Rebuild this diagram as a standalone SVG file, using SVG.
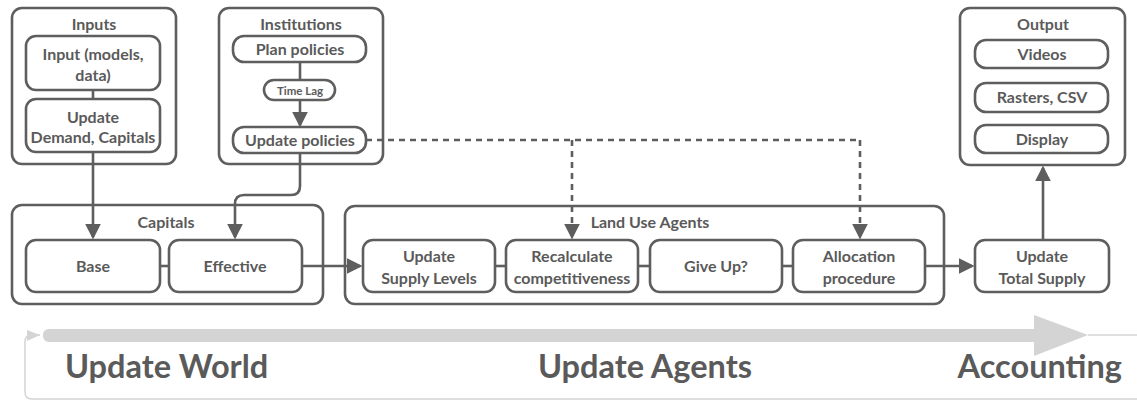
<svg xmlns="http://www.w3.org/2000/svg" width="1137" height="401" viewBox="0 0 1137 401">
<style>
.box{fill:#fff;stroke:#5e5e5e;stroke-width:2.6}
.grp{fill:#fff;stroke:#5e5e5e;stroke-width:2.6}
.t{font-family:Lato,"Liberation Sans",sans-serif;font-weight:bold;font-size:16px;fill:#5a5a5a;text-anchor:middle}
.ts{font-size:11.5px}
.big{font-family:Lato,"Liberation Sans",sans-serif;font-weight:bold;font-size:32.5px;fill:#5a5a5a}
.ln{fill:none;stroke:#5e5e5e;stroke-width:2.6}
.dash{fill:none;stroke:#5e5e5e;stroke-width:2.6;stroke-dasharray:6,5}
</style>
<defs>
<marker id="ah" markerWidth="6" markerHeight="6" refX="5" refY="3" orient="auto" markerUnits="strokeWidth">
<path d="M0,0 L6,3 L0,6 z" fill="#5e5e5e"/>
</marker>
</defs>

<g id="timeline">
<path d="M40 335 H32 Q25 335 25 342 V392 Q25 399 32 399 H1137" fill="none" stroke="#d4d4d4" stroke-width="1.5"/>
<path d="M27 330 L40 335 L27 341 z" fill="#d4d4d4"/>
<path d="M1088 335 H1137" fill="none" stroke="#d4d4d4" stroke-width="1.5"/>
<path d="M49 329 H1034 V315 L1088 335 L1034 356 V342 H49 Q43 342 43 335.5 Q43 329 49 329 z" fill="#d4d4d4"/>
<text class="big" x="65" y="378">Update World</text>
<text class="big" x="645" y="378" text-anchor="middle">Update Agents</text>
<text class="big" x="1122" y="378" text-anchor="end">Accounting</text>
</g>

<g id="inputs">
<rect class="grp" x="12" y="8" width="164" height="156" rx="10"/>
<text class="t" x="94" y="30">Inputs</text>
<rect class="box" x="26" y="36" width="134" height="54" rx="10"/>
<text class="t" x="93" y="60">Input (models,</text>
<text class="t" x="93" y="81">data)</text>
<rect class="box" x="26" y="99" width="134" height="53" rx="10"/>
<text class="t" x="93" y="123">Update</text>
<text class="t" x="93" y="143">Demand, Capitals</text>
</g>

<g id="institutions">
<rect class="grp" x="219" y="8" width="164" height="156" rx="10"/>
<text class="t" x="301" y="30">Institutions</text>
<rect class="box" x="233" y="36" width="133" height="26" rx="11"/>
<text class="t" x="300" y="55">Plan policies</text>
<rect class="box" x="264" y="80" width="71" height="20" rx="10"/>
<text class="t ts" x="300" y="94.5">Time Lag</text>
<rect class="box" x="233" y="127" width="133" height="26" rx="11"/>
<text class="t" x="300" y="146">Update policies</text>
</g>

<g id="output">
<rect class="grp" x="960" y="8" width="165" height="157" rx="10"/>
<text class="t" x="1043" y="30">Output</text>
<rect class="box" x="975" y="40" width="133" height="28" rx="11"/>
<text class="t" x="1042" y="60">Videos</text>
<rect class="box" x="975" y="83" width="133" height="29" rx="11"/>
<text class="t" x="1042" y="103">Rasters, CSV</text>
<rect class="box" x="975" y="125" width="133" height="28" rx="11"/>
<text class="t" x="1042" y="145">Display</text>
</g>

<g id="capitals">
<rect class="grp" x="12" y="205" width="311" height="99" rx="10"/>
<text class="t" x="166" y="228">Capitals</text>
<rect class="box" x="26" y="240" width="134" height="52" rx="10"/>
<text class="t" x="93" y="272">Base</text>
<rect class="box" x="169" y="240" width="133" height="52" rx="10"/>
<text class="t" x="235" y="272">Effective</text>
</g>

<g id="land-use-agents">
<rect class="grp" x="345" y="206" width="599" height="98" rx="10"/>
<text class="t" x="650" y="228">Land Use Agents</text>
<rect class="box" x="363" y="240" width="132" height="52" rx="10"/>
<text class="t" x="429" y="262">Update</text>
<text class="t" x="429" y="284">Supply Levels</text>
<rect class="box" x="506" y="240" width="132" height="52" rx="10"/>
<text class="t" x="572" y="262">Recalculate</text>
<text class="t" x="572" y="284">competitiveness</text>
<rect class="box" x="650" y="240" width="132" height="52" rx="10"/>
<text class="t" x="716" y="272">Give Up?</text>
<rect class="box" x="793" y="240" width="132" height="52" rx="10"/>
<text class="t" x="859" y="262">Allocation</text>
<text class="t" x="859" y="284">procedure</text>
</g>

<g id="total-supply">
<rect class="box" x="975" y="240" width="134" height="52" rx="10"/>
<text class="t" x="1042" y="262">Update</text>
<text class="t" x="1042" y="284">Total Supply</text>
</g>

<g id="connectors">
<path class="ln" d="M93 90 V99"/>
<path class="ln" d="M93 152 V237" marker-end="url(#ah)"/>
<path class="ln" d="M300 62 V80"/>
<path class="ln" d="M300 100 V125" marker-end="url(#ah)"/>
<path class="ln" d="M300 153 V186 Q300 195 291 195 H244 Q235 195 235 204 V237" marker-end="url(#ah)"/>
<path class="ln" d="M160 266 H169"/>
<path class="ln" d="M302 266 H360" marker-end="url(#ah)"/>
<path class="ln" d="M495 266 H506"/>
<path class="ln" d="M638 266 H650"/>
<path class="ln" d="M782 266 H793"/>
<path class="ln" d="M925 266 H972" marker-end="url(#ah)"/>
<path class="ln" d="M1043 240 V168" marker-end="url(#ah)"/>
<path class="dash" d="M366 140 H860"/>
<path class="dash" d="M572 140 V237" marker-end="url(#ah)"/>
<path class="dash" d="M860 140 V237" marker-end="url(#ah)"/>
</g>
</svg>
